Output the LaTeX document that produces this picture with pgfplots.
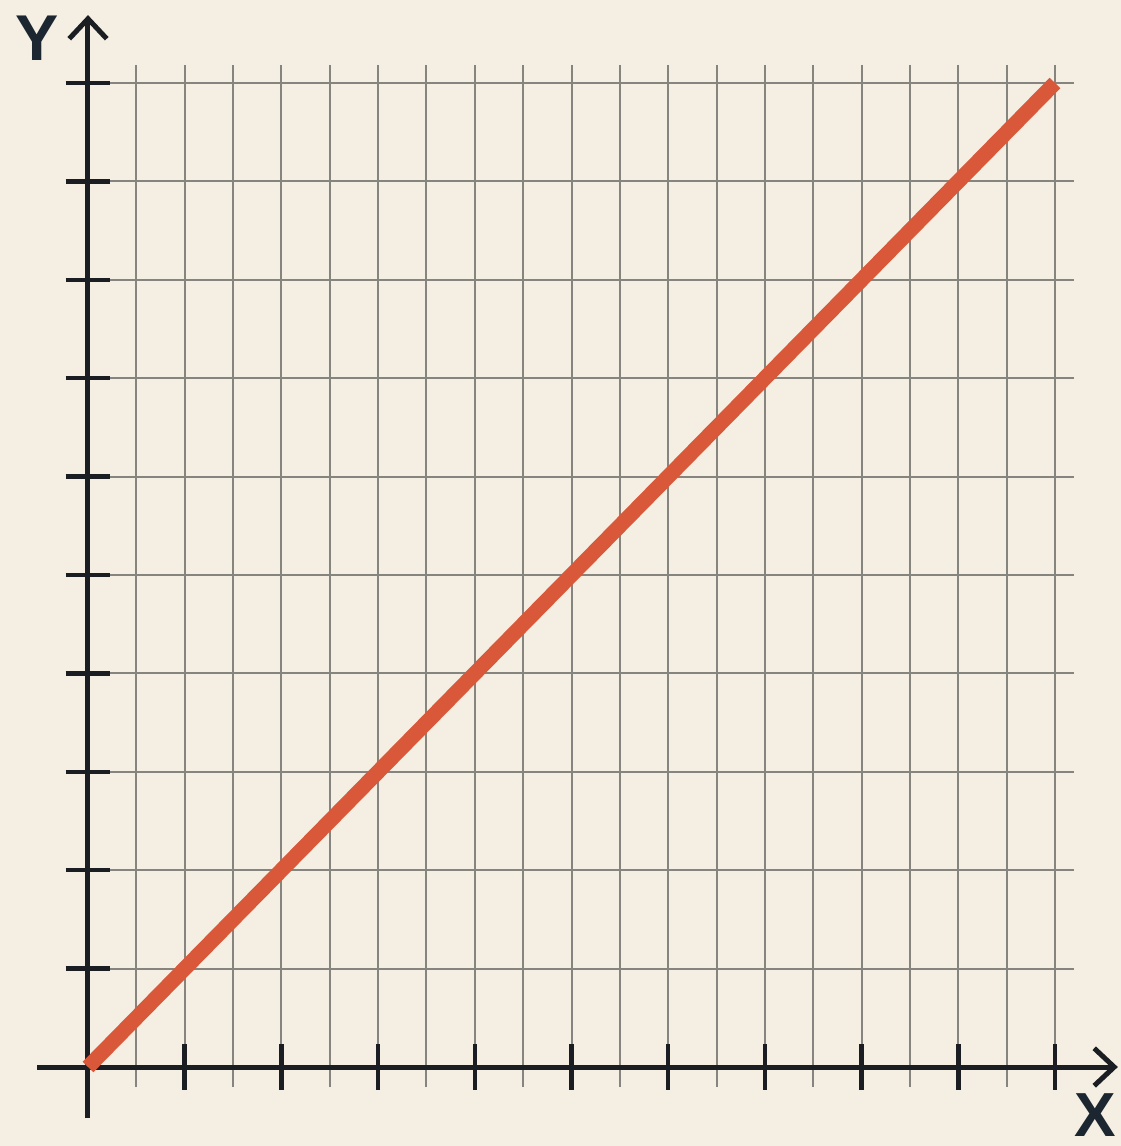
\documentclass[border=0pt]{standalone}
\usepackage{pgfplots}
\pgfplotsset{compat=1.18}
\usepackage{fontspec}
\setmainfont{Liberation Sans}
\usetikzlibrary{arrows.meta}
\definecolor{bg}{HTML}{F4EFE2}
\definecolor{gridc}{HTML}{86847E}
\definecolor{axc}{HTML}{1A1D21}
\definecolor{linec}{HTML}{D9583A}
\definecolor{labc}{HTML}{1C2631}
\begin{document}
\begin{tikzpicture}
\fill[bg] (-35.2bp,-31.6bp) rectangle (413.2bp,426.8bp);
\pgfplotsset{myaxis/.style={at={(0,0)}, anchor=origin, x=38.68bp, y=39.36bp,
  xmin=-0.527, xmax=10.65, ymin=-0.52, ymax=10.69, clip=false}}
\begin{axis}[myaxis, hide axis]
\pgfplotsinvokeforeach{0.5,1,1.5,2,2.5,3,3.5,4,4.5,5,5.5,6,6.5,7,7.5,8,8.5,9,9.5,10}{
  \draw[gridc, line width=0.8bp] (axis cs:#1,-0.2) -- (axis cs:#1,10.18);}
\pgfplotsinvokeforeach{1,2,3,4,5,6,7,8,9,10}{
  \draw[gridc, line width=0.8bp] (axis cs:-0.2,#1) -- (axis cs:10.2,#1);}
\end{axis}
\begin{axis}[myaxis, axis lines=middle,
  axis line style={axc, line width=2bp, -{Straight Barb[length=8bp,width=15bp,line width=2bp]}},
  xtick={1,2,3,4,5,6,7,8,9,10}, ytick={1,2,3,4,5,6,7,8,9,10},
  xticklabels={}, yticklabels={},
  tick align=center, major tick length=18bp,
  every tick/.style={axc, line width=1.8bp}]
\addplot[linec, line width=6bp] coordinates {(0,0) (10,10)};
\node[font=\bfseries\fontsize{26}{26}\selectfont, text=labc] at (axis cs:-0.53,10.45) {Y};
\node[font=\bfseries\fontsize{25}{25}\selectfont, text=labc] at (axis cs:10.42,-0.49) {X};
\end{axis}
\pgfresetboundingbox
\useasboundingbox (-35.2bp,-31.6bp) rectangle (413.2bp,426.8bp);
\end{tikzpicture}
\end{document}
